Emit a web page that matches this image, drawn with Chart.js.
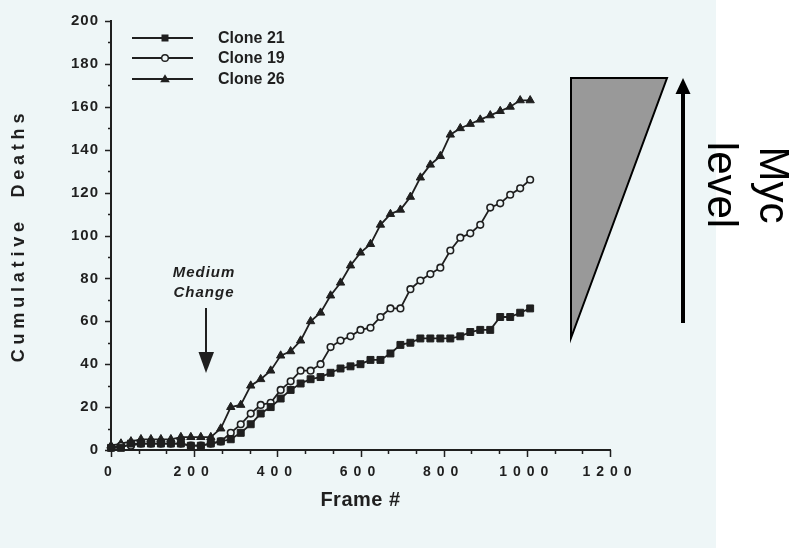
<!DOCTYPE html>
<html>
<head>
<meta charset="utf-8">
<script src="https://cdn.jsdelivr.net/npm/chart.js@4.4.1/dist/chart.umd.min.js"></script>
<style>
  html, body { margin: 0; padding: 0; background: #fff; }
  #wrap { width: 808px; height: 548px; }
</style>
</head>
<body>
<div id="wrap"><canvas id="deathChart" width="808" height="548"></canvas></div>
<script>
// frame numbers where a count was taken
const frames = [0, 24, 48, 72, 96, 120, 144, 168, 192, 216, 240, 264, 288, 312, 336, 360, 384, 408, 432, 456,
  480, 504, 528, 552, 576, 600, 624, 648, 672, 696, 720, 744, 768, 792, 816, 840, 864, 888, 912, 936, 960, 984, 1008];

// cumulative deaths per clone
const clone21 = [1, 1, 3, 3, 3, 3, 3, 3, 2, 2, 3, 4, 5, 8, 12, 17, 20, 24, 28, 31,
  33, 34, 36, 38, 39, 40, 42, 42, 45, 49, 50, 52, 52, 52, 52, 53, 55, 56, 56, 62, 62, 64, 66];
const clone19 = [1, 2, 2, 3, 3, 3, 3, 3, 2, 2, 3, 4, 8, 12, 17, 21, 22, 28, 32, 37,
  37, 40, 48, 51, 53, 56, 57, 62, 66, 66, 75, 79, 82, 85, 93, 99, 101, 105, 113, 115, 119, 122, 126];
const clone26 = [2, 3, 4, 5, 5, 5, 5, 6, 6, 6, 6, 10, 20, 21, 30, 33, 37, 44, 46, 51,
  60, 64, 72, 78, 86, 92, 96, 105, 110, 112, 118, 127, 133, 137, 147, 150, 152, 154, 156, 158, 160, 163, 163];

const seriesNames = ['Clone 21', 'Clone 19', 'Clone 26'];

// axes
const xMajorTicks = [0, 200, 400, 600, 800, 1000, 1200];
const yMajorTicks = [0, 20, 40, 60, 80, 100, 120, 140, 160, 180, 200];

const ink = '#1f1f1f';
const paper = '#eef6f7';
const fontFam = '"Liberation Sans", Arial, Helvetica, sans-serif';

function toPoints(ys) {
  return frames.map((f, i) => ({ x: f, y: ys[i] }));
}

function isMajor(v, list) {
  return list.some(m => Math.abs(m - v) < 1e-6);
}

// canvas letterSpacing for one scale's labels / title
function withSpacing(scale, method, spacing) {
  if (scale[method]._spaced) return;
  const orig = scale[method];
  const wrapped = function (...args) {
    const ctx = this.ctx;
    const prev = ctx.letterSpacing;
    ctx.letterSpacing = spacing + 'px';
    orig.apply(this, args);
    ctx.letterSpacing = prev || '0px';
  };
  wrapped._spaced = true;
  scale[method] = wrapped;
}

function drawMarker(ctx, style, x, y) {
  ctx.save();
  ctx.fillStyle = ink;
  ctx.strokeStyle = ink;
  ctx.lineWidth = 1.4;
  ctx.beginPath();
  if (style === 'rect') {
    ctx.rect(x - 3.5, y - 3.5, 7, 7);
    ctx.fill();
  } else if (style === 'circle') {
    ctx.arc(x, y, 3.3, 0, Math.PI * 2);
    ctx.fillStyle = paper;
    ctx.fill();
    ctx.stroke();
  } else {
    ctx.moveTo(x, y - 4.8);
    ctx.lineTo(x + 4.8, y + 3.2);
    ctx.lineTo(x - 4.8, y + 3.2);
    ctx.closePath();
    ctx.fill();
  }
  ctx.restore();
}

const paperPlugin = {
  id: 'paper',
  beforeDraw(chart) {
    const ctx = chart.ctx;
    ctx.save();
    ctx.fillStyle = '#ffffff';
    ctx.fillRect(0, 0, chart.width, chart.height);
    ctx.fillStyle = paper;
    ctx.fillRect(0, 0, 716, chart.height);
    ctx.restore();
    withSpacing(chart.scales.x, 'drawLabels', 6);
    withSpacing(chart.scales.y, 'drawLabels', 1);
    withSpacing(chart.scales.x, 'drawTitle', 0.5);
    withSpacing(chart.scales.y, 'drawTitle', 4.8);
  }
};

// major / minor tick marks outside the axes
const tickPlugin = {
  id: 'tickMarks',
  afterDraw(chart) {
    const ctx = chart.ctx;
    const { left, bottom } = chart.chartArea;
    ctx.save();
    ctx.strokeStyle = ink;
    ctx.lineWidth = 1.5;
    ctx.beginPath();
    chart.scales.x.ticks.forEach(t => {
      const px = Math.round(chart.scales.x.getPixelForValue(t.value)) + 0.5;
      const len = isMajor(t.value, xMajorTicks) ? 7 : 4;
      ctx.moveTo(px, bottom);
      ctx.lineTo(px, bottom + len);
    });
    chart.scales.y.ticks.forEach(t => {
      const py = Math.round(chart.scales.y.getPixelForValue(t.value)) + 0.5;
      const len = isMajor(t.value, yMajorTicks) ? 6 : 3;
      ctx.moveTo(left, py);
      ctx.lineTo(left - len, py);
    });
    ctx.stroke();
    ctx.restore();
  }
};

const legendRows = [38, 58, 79];
const legendPlugin = {
  id: 'handLegend',
  afterDraw(chart) {
    const ctx = chart.ctx;
    ctx.save();
    chart.data.datasets.forEach((ds, i) => {
      const y = legendRows[i];
      ctx.strokeStyle = ink;
      ctx.lineWidth = 1.8;
      ctx.beginPath();
      ctx.moveTo(132, y);
      ctx.lineTo(193, y);
      ctx.stroke();
      drawMarker(ctx, ds.pointStyle, 165, y);
      ctx.fillStyle = ink;
      ctx.font = 'bold 16px ' + fontFam;
      ctx.textAlign = 'left';
      ctx.textBaseline = 'middle';
      ctx.fillText(ds.label, 218, y + 1);
    });
    ctx.restore();
  }
};

const notesPlugin = {
  id: 'notes',
  afterDraw(chart) {
    const ctx = chart.ctx;
    ctx.save();
    // medium change note
    ctx.fillStyle = ink;
    ctx.font = 'italic bold 15px ' + fontFam;
    ctx.letterSpacing = '1px';
    ctx.textAlign = 'center';
    ctx.textBaseline = 'alphabetic';
    ctx.fillText('Medium', 204, 277);
    ctx.fillText('Change', 204, 297);
    ctx.letterSpacing = '0px';
    ctx.strokeStyle = ink;
    ctx.lineWidth = 2;
    ctx.beginPath();
    ctx.moveTo(206, 308);
    ctx.lineTo(206, 356);
    ctx.stroke();
    ctx.beginPath();
    ctx.moveTo(198.5, 352);
    ctx.lineTo(214, 352);
    ctx.lineTo(206, 373);
    ctx.closePath();
    ctx.fill();

    // Myc wedge
    ctx.beginPath();
    ctx.moveTo(571, 78);
    ctx.lineTo(667, 78);
    ctx.lineTo(571, 338);
    ctx.closePath();
    ctx.fillStyle = '#999999';
    ctx.fill();
    ctx.strokeStyle = '#000';
    ctx.lineWidth = 2;
    ctx.stroke();

    // arrow
    ctx.lineWidth = 4;
    ctx.beginPath();
    ctx.moveTo(683, 323);
    ctx.lineTo(683, 90);
    ctx.stroke();
    ctx.beginPath();
    ctx.moveTo(675.5, 94);
    ctx.lineTo(690.5, 94);
    ctx.lineTo(683, 78);
    ctx.closePath();
    ctx.fillStyle = '#000';
    ctx.fill();

    // rotated label
    ctx.translate(760, 185);
    ctx.rotate(Math.PI / 2);
    ctx.font = '42px ' + fontFam;
    ctx.textAlign = 'center';
    ctx.textBaseline = 'alphabetic';
    ctx.fillText('Myc', 0, 0);
    ctx.fillText('level', 0, 52);
    ctx.restore();
  }
};

const lineStyle = {
  borderColor: ink,
  borderWidth: 1.8,
  tension: 0,
  clip: 10,
  pointBorderColor: ink,
  pointHoverRadius: 4
};

new Chart(document.getElementById('deathChart'), {
  type: 'line',
  data: {
    datasets: [
      Object.assign({}, lineStyle, {
        label: seriesNames[0], data: toPoints(clone21),
        pointStyle: 'rect', pointRadius: 4.9, pointBackgroundColor: ink, pointBorderWidth: 1
      }),
      Object.assign({}, lineStyle, {
        label: seriesNames[1], data: toPoints(clone19),
        pointStyle: 'circle', pointRadius: 3.3, pointBackgroundColor: paper, pointBorderWidth: 1.6
      }),
      Object.assign({}, lineStyle, {
        label: seriesNames[2], data: toPoints(clone26),
        pointStyle: 'triangle', pointRadius: 4.8, pointBackgroundColor: ink, pointBorderWidth: 1
      })
    ]
  },
  options: {
    responsive: false,
    animation: false,
    devicePixelRatio: 1,
    layout: { padding: { left: 0, right: 198, top: 18, bottom: 0 } },
    plugins: {
      legend: { display: false },
      tooltip: { enabled: false }
    },
    scales: {
      x: {
        type: 'linear',
        min: 0,
        max: 1200,
        afterFit: s => { s.height = 98; },
        border: { display: true, color: ink, width: 2 },
        grid: { display: true, drawOnChartArea: false, drawTicks: false },
        ticks: {
          stepSize: 200 / 3,
          autoSkip: false,
          maxRotation: 0,
          padding: 14,
          color: ink,
          font: { family: fontFam, size: 14, weight: 'bold' },
          callback: v => isMajor(v, xMajorTicks) ? String(Math.round(v)) : ''
        },
        title: {
          display: true,
          text: 'Frame #',
          color: ink,
          font: { family: fontFam, size: 20, weight: 'bold' },
          padding: { top: 0, bottom: 36 }
        }
      },
      y: {
        min: 0,
        max: 200,
        afterFit: s => { s.width = 111; },
        border: { display: true, color: ink, width: 2 },
        grid: { display: true, drawOnChartArea: false, drawTicks: false },
        ticks: {
          stepSize: 10,
          autoSkip: false,
          padding: 12,
          color: ink,
          font: { family: fontFam, size: 15, weight: 'bold' },
          callback: v => isMajor(v, yMajorTicks) ? String(v) : ''
        },
        title: {
          display: true,
          text: 'Cumulative  Deaths',
          color: ink,
          font: { family: fontFam, size: 18, weight: 'bold' },
          padding: { top: 8, bottom: 0 }
        }
      }
    }
  },
  plugins: [paperPlugin, tickPlugin, legendPlugin, notesPlugin]
});
</script>
</body>
</html>
